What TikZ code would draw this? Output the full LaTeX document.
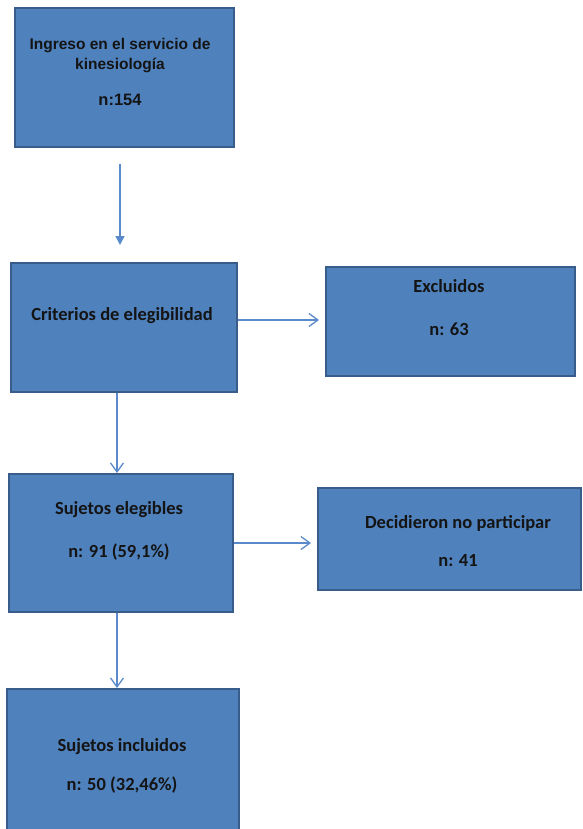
\documentclass[tikz,border=0pt]{standalone}
\usepackage{fontspec}
\newfontfamily\arialb{Liberation Sans}
\newfontfamily\calb{Carlito}
\usetikzlibrary{arrows.meta,shadows}
\definecolor{boxfill}{HTML}{4F81BD}
\definecolor{boxline}{HTML}{385D8A}
\definecolor{arrcol}{HTML}{5A8ACB}
\definecolor{txtcol}{HTML}{141414}
\begin{document}
\begin{tikzpicture}[x=1pt,y=1pt,
  box/.style={draw=boxline, fill=boxfill, line width=1.6pt, anchor=north west, inner sep=0pt,
    drop shadow={shadow xshift=1.5pt, shadow yshift=-1.5pt, opacity=0.12}},
  lbla/.style={text=txtcol, font=\arialb\bfseries\fontsize{15.5}{18}\selectfont, inner sep=0pt, text height=0.7em, text depth=0.2em},
  lblc/.style={text=txtcol, font=\calb\bfseries\fontsize{18.5}{22}\selectfont, inner sep=0pt, text height=0.7em, text depth=0.2em},
  arr/.style={draw=arrcol, line width=1.4pt, -{Straight Barb[length=9pt,width=13pt,line width=1.3pt]}},
  arrf/.style={draw=arrcol, line width=1.4pt, -{Triangle[length=9pt,width=9pt]}, fill=arrcol}
]
\useasboundingbox (0,0) rectangle (582,-829);
\clip (0,0) rectangle (582,-829);
% boxes
\node[box, minimum width=219pt, minimum height=139pt] (b1) at (14,-7) {};
\node[box, minimum width=226pt, minimum height=129pt] (b2) at (10,-262) {};
\node[box, minimum width=249pt, minimum height=109pt] (b3) at (325,-266) {};
\node[box, minimum width=224pt, minimum height=138pt] (b4) at (8,-473) {};
\node[box, minimum width=263pt, minimum height=102pt] (b5) at (317,-487) {};
\node[box, minimum width=232pt, minimum height=160pt] (b6) at (6,-688) {};
% texts
\node[lbla] (t1a) at (120,-47) {Ingreso en el servicio de};
\node[lbla] (t1b) at (120,-67) {kinesiología};
\node[lbla, font=\arialb\bfseries\fontsize{16.5}{19}\selectfont] (t1c) at (120,-103) {n:154};
\node[lblc] (t2) at (122,-318) {Criterios de elegibilidad};
\node[lblc] (t3a) at (449,-290) {Excluidos};
\node[lblc] (t3b) at (449,-333) {n: 63};
\node[lblc] (t4a) at (119,-512) {Sujetos elegibles};
\node[lblc] (t4b) at (119,-555) {n: 91 (59,1\%)};
\node[lblc] (t5a) at (458,-526) {Decidieron no participar};
\node[lblc] (t5b) at (458,-564) {n: 41};
\node[lblc] (t6a) at (122,-749) {Sujetos incluidos};
\node[lblc] (t6b) at (122,-788) {n: 50 (32,46\%)};
% connectors
\coordinate (xa) at (120,0);
\coordinate (xb) at (117,0);
\coordinate (ya) at (0,-320);
\coordinate (yb) at (0,-543);
\draw[arrf, shorten <=16pt, shorten >=17pt] (b1.south -| xa) -- (b2.north -| xa);
\draw[arr, shorten >=6pt] (b2.east |- ya) -- (b3.west |- ya);
\draw[arr] (b2.south -| xb) -- (b4.north -| xb);
\draw[arr, shorten >=6pt] (b4.east |- yb) -- (b5.west |- yb);
\draw[arr] (b4.south -| xb) -- (b6.north -| xb);
\end{tikzpicture}
\end{document}
